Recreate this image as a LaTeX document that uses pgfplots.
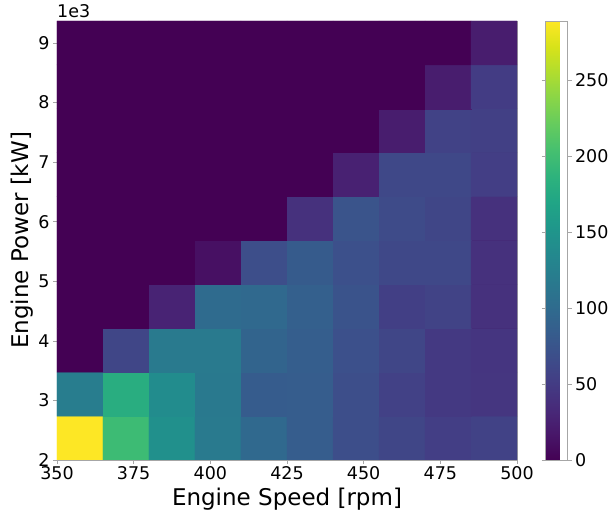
\documentclass[border=0pt]{standalone}
\usepackage{fontspec}
\setmainfont{DejaVu Sans}
\usepackage{pgfplots}
\usepackage{pgfplotstable}
\pgfplotsset{compat=1.18}
\definecolor{viridislow}{RGB}{68,1,84}
\pgfplotstableread{
x y c
357.5 2.3685 289
372.5 2.3685 198
387.5 2.3685 145
402.5 2.3685 118
417.5 2.3685 98
432.5 2.3685 84
447.5 2.3685 68
462.5 2.3685 60
477.5 2.3685 52
492.5 2.3685 56
357.5 3.1055 122
372.5 3.1055 180
387.5 3.1055 140
402.5 3.1055 117
417.5 3.1055 83
432.5 3.1055 84
447.5 3.1055 68
462.5 3.1055 55
477.5 3.1055 48
492.5 3.1055 45
357.5 3.8425 0
372.5 3.8425 60
387.5 3.8425 118
402.5 3.8425 118
417.5 3.8425 92
432.5 3.8425 85
447.5 3.8425 70
462.5 3.8425 60
477.5 3.8425 48
492.5 3.8425 44
357.5 4.5795 0
372.5 4.5795 0
387.5 4.5795 28
402.5 4.5795 100
417.5 4.5795 98
432.5 4.5795 87
447.5 4.5795 73
462.5 4.5795 53
477.5 4.5795 57
492.5 4.5795 40
357.5 5.3165 0
372.5 5.3165 0
387.5 5.3165 0
402.5 5.3165 12
417.5 5.3165 68
432.5 5.3165 82
447.5 5.3165 70
462.5 5.3165 62
477.5 5.3165 62
492.5 5.3165 40
357.5 6.0535 0
372.5 6.0535 0
387.5 6.0535 0
402.5 6.0535 0
417.5 6.0535 0
432.5 6.0535 40
447.5 6.0535 75
462.5 6.0535 65
477.5 6.0535 60
492.5 6.0535 40
357.5 6.7905 0
372.5 6.7905 0
387.5 6.7905 0
402.5 6.7905 0
417.5 6.7905 0
432.5 6.7905 0
447.5 6.7905 26
462.5 6.7905 62
477.5 6.7905 62
492.5 6.7905 52
357.5 7.5275 0
372.5 7.5275 0
387.5 7.5275 0
402.5 7.5275 0
417.5 7.5275 0
432.5 7.5275 0
447.5 7.5275 0
462.5 7.5275 22
477.5 7.5275 56
492.5 7.5275 54
357.5 8.2645 0
372.5 8.2645 0
387.5 8.2645 0
402.5 8.2645 0
417.5 8.2645 0
432.5 8.2645 0
447.5 8.2645 0
462.5 8.2645 0
477.5 8.2645 22
492.5 8.2645 50
357.5 9.0015 0
372.5 9.0015 0
387.5 9.0015 0
402.5 9.0015 0
417.5 9.0015 0
432.5 9.0015 0
447.5 9.0015 0
462.5 9.0015 0
477.5 9.0015 0
492.5 9.0015 22
}\heat
\begin{document}
\begin{tikzpicture}
\begin{axis}[
  name=main,
  scale only axis,
  width=460pt, height=439pt,
  xmin=350, xmax=500, ymin=2, ymax=9.37,
  xtick={350,375,...,500}, ytick={2,3,...,9},
  axis background/.style={fill=viridislow},
  /pgf/number format/assume math mode=true,
  tick label style={font=\fontsize{17.5}{20}\selectfont},
  label style={font=\fontsize{23}{27}\selectfont},
  xlabel={Engine Speed [rpm]},
  ylabel={Engine Power [kW]},
  xlabel style={yshift=-1pt},
  ylabel style={yshift=-2pt},
  xticklabel style={yshift=1pt},
  axis line style={draw=gray!70},
  tick style={draw=gray!70, line width=0.6pt},
  tick align=outside, major tick length=4pt,
  xtick pos=bottom, ytick pos=left,
  colormap/viridis,
  point meta min=0, point meta max=289,
  colorbar,
  colorbar style={
    at={(main.north east)}, anchor=north west, xshift=20pt,
    width=22pt,
    ytick={0,50,...,250},
    yticklabel pos=right,
    tick align=outside, major tick length=4pt,
    /pgf/number format/assume math mode=true,
    tick label style={font=\fontsize{17.5}{20}\selectfont},
    axis line style={draw=gray!70},
    tick style={draw=gray!70, line width=0.6pt},
  },
]
\addplot[matrix plot*, mesh/cols=10, point meta=explicit] table[x=x, y=y, meta=c] {\heat};
\end{axis}
\node[anchor=south west, inner sep=0pt, font=\fontsize{17.5}{20}\selectfont] at ([yshift=3pt]main.north west) {1e3};
\pgfresetboundingbox
\path ([xshift=-57pt,yshift=-59pt]main.south west) rectangle ([xshift=97pt,yshift=21pt]main.north east);
\end{tikzpicture}
\end{document}
